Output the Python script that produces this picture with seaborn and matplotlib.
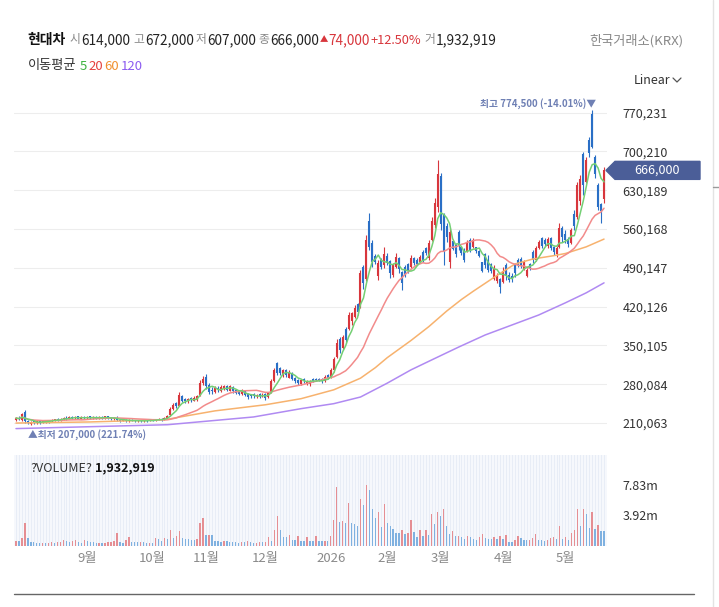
import numpy as np
import pandas as pd
import matplotlib
matplotlib.use("Agg")
import matplotlib.pyplot as plt
import seaborn as sns
from matplotlib.patches import Polygon
from matplotlib.lines import Line2D

# ---------------- data (prices in thousand KRW, volume in millions) ----------------
open_k = [216,220,215,230,214,208,213,210,213,211,212,215,213,215,218,215,217,220,218,221,
          219,222,218,221,219,222,219,221,218,221,219,222,220,217,220,216,214,216,213,216,
          215,213,215,213,215,214,216,214,216,218,216,220,224,236,246,241,258,254,249,255,
          250,252,260,282,293,278,270,266,274,268,272,276,268,275,270,268,262,268,262,260,
          262,258,262,260,262,257,265,286,318,310,297,306,292,300,292,288,281,290,280,281,
          290,290,290,290,285,297,293,305,330,362,345,380,380,395,402,425,420,492,470,575,
          535,512,475,505,495,512,502,478,492,508,482,492,497,492,508,505,500,518,526,508,
          540,568,600,655,585,565,500,538,532,555,527,520,519,540,527,527,520,500,515,505,
          497,470,466,470,465,495,478,476,495,505,506,488,476,497,518,505,526,544,540,530,
          544,528,515,528,562,552,542,535,588,582,610,695,645,720,768,690,640,605,614]
high_k = [221,222,228,233,216,214,215,215,214,215,216,216,217,218,219,219,221,222,222,222,
          223,223,222,223,223,223,222,222,222,223,223,223,221,221,222,217,217,217,217,217,
          216,216,216,216,216,217,217,218,219,219,221,224,239,246,248,266,260,256,256,257,
          258,260,288,295,298,282,275,276,277,278,279,278,279,277,272,270,272,270,264,262,
          264,263,264,264,265,266,290,309,320,312,308,308,306,302,294,290,290,291,287,288,
          291,291,292,291,297,299,309,329,362,365,369,383,410,410,423,427,486,495,549,589,
          540,515,504,508,528,517,504,499,517,510,484,495,499,513,510,508,513,522,528,540,
          582,616,685,661,589,571,562,540,535,558,528,526,540,544,544,528,522,501,517,513,
          499,495,481,472,491,499,482,481,499,508,510,504,490,499,522,530,540,546,544,546,
          546,530,530,571,566,558,545,562,594,645,658,699,690,726,774.5,694,643,607,672]
low_k = [214,215,213,210,208,207,209,209,209,210,211,211,212,214,214,214,216,216,217,217,
         218,217,217,218,218,217,218,217,217,217,218,218,216,216,214,212,213,212,212,213,
         212,212,212,212,212,213,213,213,215,214,215,218,223,234,238,240,248,247,247,248,
         249,250,258,278,271,262,262,264,266,266,270,268,267,265,262,260,260,258,254,255,
         256,256,256,257,252,255,264,284,296,297,293,294,291,288,282,279,279,283,278,277,
         284,285,285,282,284,289,291,302,328,336,342,354,378,387,399,405,418,452,466,522,
         491,497,468,488,490,495,472,473,490,481,450,473,481,490,495,495,499,500,513,504,
         538,562,591,558,495,536,490,522,509,522,513,500,518,518,526,517,510,482,490,482,
         481,468,463,445,463,468,464,464,473,491,490,486,473,486,499,503,524,526,530,526,
         522,514,510,526,536,535,528,533,558,578,603,621,643,690,706,652,594,571,607]
close_k = [219,217,226,213,210,212,211,213,211,213,215,213,216,217,215,218,220,218,221,219,
           221,218,220,219,221,219,221,218,220,219,222,219,217,219,215,214,216,213,216,214,
           213,215,213,215,214,216,214,217,218,216,220,223,236,243,240,260,250,249,254,251,
           256,258,282,290,276,266,268,273,269,275,276,270,277,268,265,262,270,260,257,258,
           258,261,259,261,256,264,286,305,300,300,305,297,302,290,285,282,288,285,285,286,
           286,287,287,285,294,292,306,325,355,342,365,360,405,408,418,410,480,462,540,528,
           500,500,498,492,515,498,480,495,510,488,462,478,485,508,498,497,510,505,516,535,
           575,608,660,570,520,545,555,525,515,530,516,505,535,522,540,520,512,485,495,487,
           484,490,478,455,485,475,468,470,480,495,494,500,486,490,505,526,537,530,533,542,
           526,518,526,562,545,540,533,558,565,640,650,640,685,698,708,660,600,592,666]
volume_m = [0.65,0.62,1.05,3.0,1.0,0.55,0.45,0.40,0.35,0.40,0.36,0.40,0.45,0.42,0.50,0.55,0.80,0.60,0.45,0.70,
            0.75,0.50,0.40,0.80,0.70,0.55,0.45,0.35,0.36,0.35,0.40,0.50,0.55,0.65,1.70,0.50,0.40,0.75,1.20,0.55,
            0.50,0.45,0.46,0.45,0.40,0.42,0.35,1.00,0.85,0.70,1.00,0.90,2.10,1.05,1.30,1.95,1.00,0.90,0.85,0.80,
            0.75,0.95,2.90,3.60,1.40,1.40,1.38,0.65,0.60,0.55,0.70,0.65,0.55,0.50,0.45,0.40,0.55,0.50,0.60,0.45,
            0.35,0.40,0.55,0.50,0.55,1.10,0.70,2.00,3.90,2.00,1.20,1.15,1.40,0.80,0.75,1.30,0.70,0.65,1.10,0.70,
            0.65,1.30,0.70,0.60,0.65,0.60,1.30,3.40,7.60,3.10,3.15,3.00,5.50,2.90,2.85,2.55,6.00,5.20,7.80,7.20,
            4.80,3.60,4.40,2.50,5.40,3.00,2.60,2.20,1.70,1.65,2.00,1.50,1.65,3.30,1.75,1.20,2.00,1.30,2.00,1.40,
            4.10,2.80,4.30,3.80,4.80,2.60,1.50,1.95,1.30,1.32,1.10,0.87,1.22,1.20,0.87,0.74,1.10,1.52,1.00,0.95,
            0.85,1.20,0.85,1.30,0.85,1.35,0.55,0.50,0.80,1.30,1.00,0.75,0.72,0.80,1.00,1.50,0.75,0.73,0.70,0.75,
            1.00,1.20,0.90,2.60,0.90,1.10,0.80,1.70,2.05,4.80,2.60,4.80,4.10,2.30,4.30,2.20,2.70,1.95,1.932919]

# long moving averages (index, thousand KRW)
ma60_idx = [0, 25, 50, 67, 84, 96, 107, 116, 121, 125, 133, 139, 145, 150, 154, 161, 168, 174, 181, 185, 192, 198]
ma60_val = [210, 212, 216, 232, 243, 254, 270, 291, 310, 328, 359, 384, 412, 433, 448, 473, 497, 506, 512, 516, 528, 542]
ma120_idx = [0, 51, 80, 96, 107, 116, 125, 133, 140, 149, 158, 167, 176, 185, 192, 198]
ma120_val = [200, 207, 221, 236, 245, 257, 282, 306, 324, 347, 369, 387, 405, 427, 445, 463]

month_labels = ["9월", "10월", "11월", "12월", "2026", "2월", "3월", "4월", "5월"]
month_idx = [24, 46, 64, 84, 106, 125, 143, 164, 185]
price_ticks = [210063, 280084, 350105, 420126, 490147, 560168, 630189, 700210, 770231]
vol_ticks = [3.92, 7.83]
vol_tick_labels = ["3.92m", "7.83m"]

stock_name = "현대차"
exchange = "한국거래소(KRX)"

# ---------------- style ----------------
sns.set_theme(style="white")
plt.rcParams["font.family"] = ["Noto Sans CJK KR", "DejaVu Sans"]

UP = "#d8363c"
DOWN = "#2a6fc6"
VUP = "#e58e93"
VDOWN = "#7fb1e0"
C5, C20, C60, C120 = "#74cf74", "#f28b8b", "#f7b26e", "#b08af2"
T5, T20, T60, T120 = "#3fb23f", "#e5413f", "#f0912f", "#8c5cf0"
TAG = "#4b5e98"
ANN = "#6f80b4"

W, H = 719, 607
fig = plt.figure(figsize=(W / 100, H / 100), dpi=100)
fig.patch.set_facecolor("white")


def fx(x):
    return x / W


def fy(y):
    return 1 - y / H


ax = fig.add_axes([fx(14), fy(445), (607 - 14) / W, (445 - 98) / H])
axv = fig.add_axes([fx(14), fy(546), (607 - 14) / W, (546 - 455) / H])

N = len(close_k)
idx = np.arange(N)
o = np.array(open_k, float) * 1000
h = np.array(high_k, float) * 1000
l = np.array(low_k, float) * 1000
c = np.array(close_k, float) * 1000
vol = np.array(volume_m, float)

up = c >= o
cols = np.where(up, UP, DOWN)

# candles
ax.vlines(idx, l, h, colors=cols, lw=0.8, zorder=3)
bot = np.minimum(o, c)
top = np.maximum(o, c)
top = np.where(top - bot < 1500, bot + 1500, top)
ax.vlines(idx, bot, top, colors=cols, lw=1.5, zorder=3)

# moving averages
ma5 = pd.Series(c).rolling(5, min_periods=1).mean().values
ma20 = pd.Series(c).rolling(20, min_periods=1).mean().values
sns.lineplot(x=ma120_idx, y=np.array(ma120_val) * 1000, ax=ax, color=C120, lw=1.1, zorder=4)
sns.lineplot(x=ma60_idx, y=np.array(ma60_val) * 1000, ax=ax, color=C60, lw=1.1, zorder=4)
sns.lineplot(x=idx, y=ma20, ax=ax, color=C20, lw=1.1, zorder=4)
sns.lineplot(x=idx, y=ma5, ax=ax, color=C5, lw=1.1, zorder=5)

ax.set_xlim(-0.67, N - 0.0)
ax.set_ylim(170400, 796600)
ax.set_yticks(price_ticks)
ax.set_yticklabels([f"{v:,}" for v in price_ticks])
ax.yaxis.tick_right()
ax.tick_params(axis="y", length=0, pad=11, labelsize=9, labelcolor="#333333")
ax.set_xticks([])
ax.grid(axis="y", color="#ededed", lw=0.8, zorder=0)
ax.grid(axis="x", visible=False)
for s in ax.spines.values():
    s.set_visible(False)
ax.set_facecolor("white")
ax.set_xlabel("")
ax.set_ylabel("")

# max / min annotations
imax = int(np.argmax(h))
imin = int(np.argmin(l))
last = c[-1]
ax.annotate(f"최고 {h[imax]:,.0f} ({(last - h[imax]) / h[imax] * 100:.2f}%)▼",
            xy=(imax, h[imax]), xytext=(3, 1), textcoords="offset points",
            ha="right", va="bottom", fontsize=7, color=ANN, fontweight="bold", zorder=6)
ax.annotate(f"▲최저 {l[imin]:,.0f} ({(last - l[imin]) / l[imin] * 100:.2f}%)",
            xy=(imin, l[imin]), xytext=(-2, -3), textcoords="offset points",
            ha="left", va="top", fontsize=7, color=ANN, fontweight="bold", zorder=6)

# last price tag
fig.canvas.draw()
yd = ax.transData.transform((0, last))[1]
yc = H - yd
tag = Polygon([(fx(606), fy(yc)), (fx(615), fy(yc - 9)), (fx(700), fy(yc - 9)),
               (fx(700), fy(yc + 9)), (fx(615), fy(yc + 9))],
              closed=True, transform=fig.transFigure, facecolor=TAG, edgecolor=TAG)
fig.add_artist(tag)
fig.text(fx(657), fy(yc), f"{last:,.0f}", color="white", fontsize=9, ha="center", va="center")

# volume
vcols = [VUP] + [VUP if vol[i] >= vol[i - 1] else VDOWN for i in range(1, N)]
axv.set_facecolor("#f6f8fc")
axv.vlines(idx, 0, 12, colors="#e8edf6", lw=0.7, zorder=1)
axv.bar(idx, vol, width=0.45, color=vcols, zorder=3, linewidth=0)
axv.set_xlim(-0.67, N - 0.0)
axv.set_ylim(0, 11.68)
axv.set_yticks(vol_ticks)
axv.set_yticklabels(vol_tick_labels)
axv.yaxis.tick_right()
axv.tick_params(axis="y", length=0, pad=11, labelsize=9, labelcolor="#333333")
axv.set_xticks(month_idx)
axv.set_xticklabels(month_labels)
axv.tick_params(axis="x", length=0, pad=4, labelsize=9.5, labelcolor="#8a8a8a")
axv.grid(False)
for s in axv.spines.values():
    s.set_visible(False)

fig.text(fx(30), fy(468), "?VOLUME?", fontsize=9, color="#333333", ha="left", va="center")
fig.text(fx(95), fy(468), f"{volume_m[-1] * 1e6:,.0f}", fontsize=9, color="#111111",
         fontweight="bold", ha="left", va="center")

# header: small grey label right before each value
hy = fy(40)
fig.text(fx(27), hy, stock_name, fontsize=10, fontweight="bold", color="#111111", ha="left", va="center")
groups = [("시", f"{open_k[-1] * 1000:,}", 81),
          ("고", f"{high_k[-1] * 1000:,}", 145),
          ("저", f"{low_k[-1] * 1000:,}", 207),
          ("종", f"{close_k[-1] * 1000:,}", 270)]
for lab, val, x in groups:
    fig.text(fx(x - 1), hy, lab, fontsize=8.5, color="#888888", ha="right", va="center")
    fig.text(fx(x), hy, val, fontsize=9.8, color="#222222", ha="left", va="center")
chg = (close_k[-1] - close_k[-2]) * 1000
pct = chg / (close_k[-2] * 1000) * 100
fig.text(fx(320), hy, "▲", fontsize=6, color=UP, ha="left", va="center")
fig.text(fx(328), hy, f"{chg:,}", fontsize=9.8, color=UP, ha="left", va="center")
fig.text(fx(370), hy, f"+{pct:.2f}%", fontsize=9.2, color=UP, ha="left", va="center")
fig.text(fx(435), hy, "거", fontsize=8.5, color="#888888", ha="right", va="center")
fig.text(fx(436), hy, f"{volume_m[-1] * 1e6:,.0f}", fontsize=9.8, color="#222222", ha="left", va="center")
fig.text(fx(683), fy(41), exchange, fontsize=9.5, color="#888888", ha="right", va="center")

my = fy(66)
fig.text(fx(28), my, "이동평균", fontsize=9.5, color="#333333", ha="left", va="center")
for t, x, col in [("5", 80, T5), ("20", 88, T20), ("60", 104, T60), ("120", 121, T120)]:
    fig.text(fx(x), my, t, fontsize=9.5, color=col, ha="left", va="center")

fig.text(fx(634), fy(80), "Linear", fontsize=9, color="#333333", ha="left", va="center")
fig.add_artist(Line2D([fx(673), fx(677), fx(681)], [fy(78), fy(82), fy(78)],
                      color="#555555", lw=0.9, transform=fig.transFigure))

# frame decorations
fig.add_artist(Line2D([fx(14), fx(694)], [fy(594), fy(594)], color="#666666", lw=1.0,
                      transform=fig.transFigure))
fig.add_artist(Line2D([fx(713), fx(713)], [0, 1], color="#e3e3e3", lw=1.0,
                      transform=fig.transFigure))
fig.add_artist(Line2D([fx(713), fx(719)], [fy(187), fy(187)], color="#999999", lw=1.0,
                      transform=fig.transFigure))

fig.savefig("out.png", dpi=100)
